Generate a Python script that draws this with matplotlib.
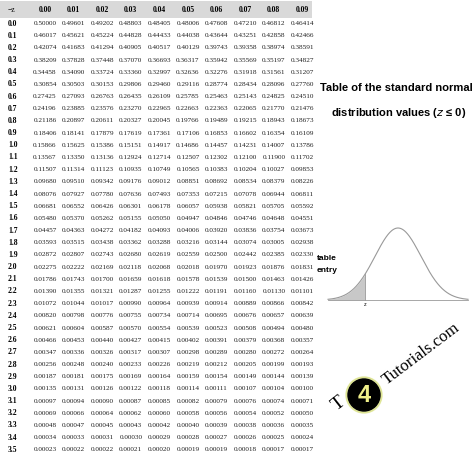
import numpy as np
import matplotlib
matplotlib.use("Agg")
import matplotlib.pyplot as plt
from matplotlib.patches import Rectangle, Circle

col_labels = ["0.00","0.01","0.02","0.03","0.04","0.05","0.06","0.07","0.08","0.09"]
row_labels = ["%.1f" % (i/10) for i in range(36)]
rows = [
"50000 49601 49202 48803 48405 48006 47608 47210 46812 46414",
"46017 45621 45224 44828 44433 44038 43644 43251 42858 42466",
"42074 41683 41294 40905 40517 40129 39743 39358 38974 38591",
"38209 37828 37448 37070 36693 36317 35942 35569 35197 34827",
"34458 34090 33724 33360 32997 32636 32276 31918 31561 31207",
"30854 30503 30153 29806 29460 29116 28774 28434 28096 27760",
"27425 27093 26763 26435 26109 25785 25463 25143 24825 24510",
"24196 23885 23576 23270 22965 22663 22363 22065 21770 21476",
"21186 20897 20611 20327 20045 19766 19489 19215 18943 18673",
"18406 18141 17879 17619 17361 17106 16853 16602 16354 16109",
"15866 15625 15386 15151 14917 14686 14457 14231 14007 13786",
"13567 13350 13136 12924 12714 12507 12302 12100 11900 11702",
"11507 11314 11123 10935 10749 10565 10383 10204 10027 09853",
"09680 09510 09342 09176 09012 08851 08692 08534 08379 08226",
"08076 07927 07780 07636 07493 07353 07215 07078 06944 06811",
"06681 06552 06426 06301 06178 06057 05938 05821 05705 05592",
"05480 05370 05262 05155 05050 04947 04846 04746 04648 04551",
"04457 04363 04272 04182 04093 04006 03920 03836 03754 03673",
"03593 03515 03438 03362 03288 03216 03144 03074 03005 02938",
"02872 02807 02743 02680 02619 02559 02500 02442 02385 02330",
"02275 02222 02169 02118 02068 02018 01970 01923 01876 01831",
"01786 01743 01700 01659 01618 01578 01539 01500 01463 01426",
"01390 01355 01321 01287 01255 01222 01191 01160 01130 01101",
"01072 01044 01017 00990 00964 00939 00914 00889 00866 00842",
"00820 00798 00776 00755 00734 00714 00695 00676 00657 00639",
"00621 00604 00587 00570 00554 00539 00523 00508 00494 00480",
"00466 00453 00440 00427 00415 00402 00391 00379 00368 00357",
"00347 00336 00326 00317 00307 00298 00289 00280 00272 00264",
"00256 00248 00240 00233 00226 00219 00212 00205 00199 00193",
"00187 00181 00175 00169 00164 00159 00154 00149 00144 00139",
"00135 00131 00126 00122 00118 00114 00111 00107 00104 00100",
"00097 00094 00090 00087 00085 00082 00079 00076 00074 00071",
"00069 00066 00064 00062 00060 00058 00056 00054 00052 00050",
"00048 00047 00045 00043 00042 00040 00039 00038 00036 00035",
"00034 00033 00031 00030 00029 00028 00027 00026 00025 00024",
"00023 00022 00022 00021 00020 00019 00019 00018 00017 00017",
]
values = [["0." + v for v in r.split()] for r in rows]

fig = plt.figure(figsize=(4.74, 4.55), dpi=100)
ax = fig.add_axes([0, 0, 1, 1])
ax.set_xlim(0, 474); ax.set_ylim(455, 0); ax.axis("off")

serif = "Liberation Serif"
ax.add_patch(Rectangle((0, 1), 312, 17, color="#d9d9d9", lw=0))
ax.text(8, 10, "\u2212z", fontsize=5.5, family=serif, va="center", ha="left")
x0, dx = 45, 28.6
for j, c in enumerate(col_labels):
    ax.text(x0 + j*dx, 10, c, fontsize=5.5, family=serif, weight="bold", va="center", ha="center")
y0, dy = 23.5, 12.18
for i, (rl, vals) in enumerate(zip(row_labels, values)):
    y = y0 + i*dy
    ax.text(8, y, rl, fontsize=5.5, family=serif, weight="bold", va="center", ha="left")
    for j, v in enumerate(vals):
        ax.text(x0 + j*dx, y, v, fontsize=5.2, family=serif, va="center", ha="center", color="#222222")

ax.text(396, 88, "Table of the standard normal", fontsize=8, weight="bold", ha="center", va="center", family="Liberation Sans")
ax.text(399, 113, "distribution values ($\\mathbf{\\it{z}}$ \u2264 0)", fontsize=8, weight="bold", ha="center", va="center", family="Liberation Sans")

xs = np.linspace(328, 468, 300)
ys = 300 - 72*np.exp(-0.5*((xs-398)/23)**2)
ax.plot(xs, ys, color="#999999", lw=0.8)
m = xs <= 365
ax.fill_between(xs[m], ys[m], 300, color="#c8c8c8", lw=0)
ax.plot([365, 365], [ys[m][-1], 300], color="#999999", lw=0.6)
ax.plot([328, 468], [300, 300], color="#999999", lw=0.6)
ax.text(365, 305, "z", fontsize=3.5, ha="center", va="center")
ax.text(317, 258, "table", fontsize=6, weight="bold", ha="left", va="center", family="Liberation Sans", zorder=5)
ax.text(317, 271, "entry", fontsize=6, weight="bold", ha="left", va="center", family="Liberation Sans", zorder=5)

ax.text(339, 404, "T", fontsize=14, rotation=38, ha="center", va="center", family="Liberation Serif")
ax.add_patch(Circle((364, 395), 18, color="#d8e080", zorder=2, alpha=0.7))
ax.add_patch(Circle((364, 395), 16, color="black", zorder=3))
ax.text(364, 395, "4", fontsize=17, weight="bold", color="#eeee88", ha="center", va="center", zorder=4, family="Liberation Sans")
ax.text(421, 354, "Tutorials.com", fontsize=12, rotation=37, ha="center", va="center", family="Liberation Serif")

fig.savefig("out.png", dpi=100)
